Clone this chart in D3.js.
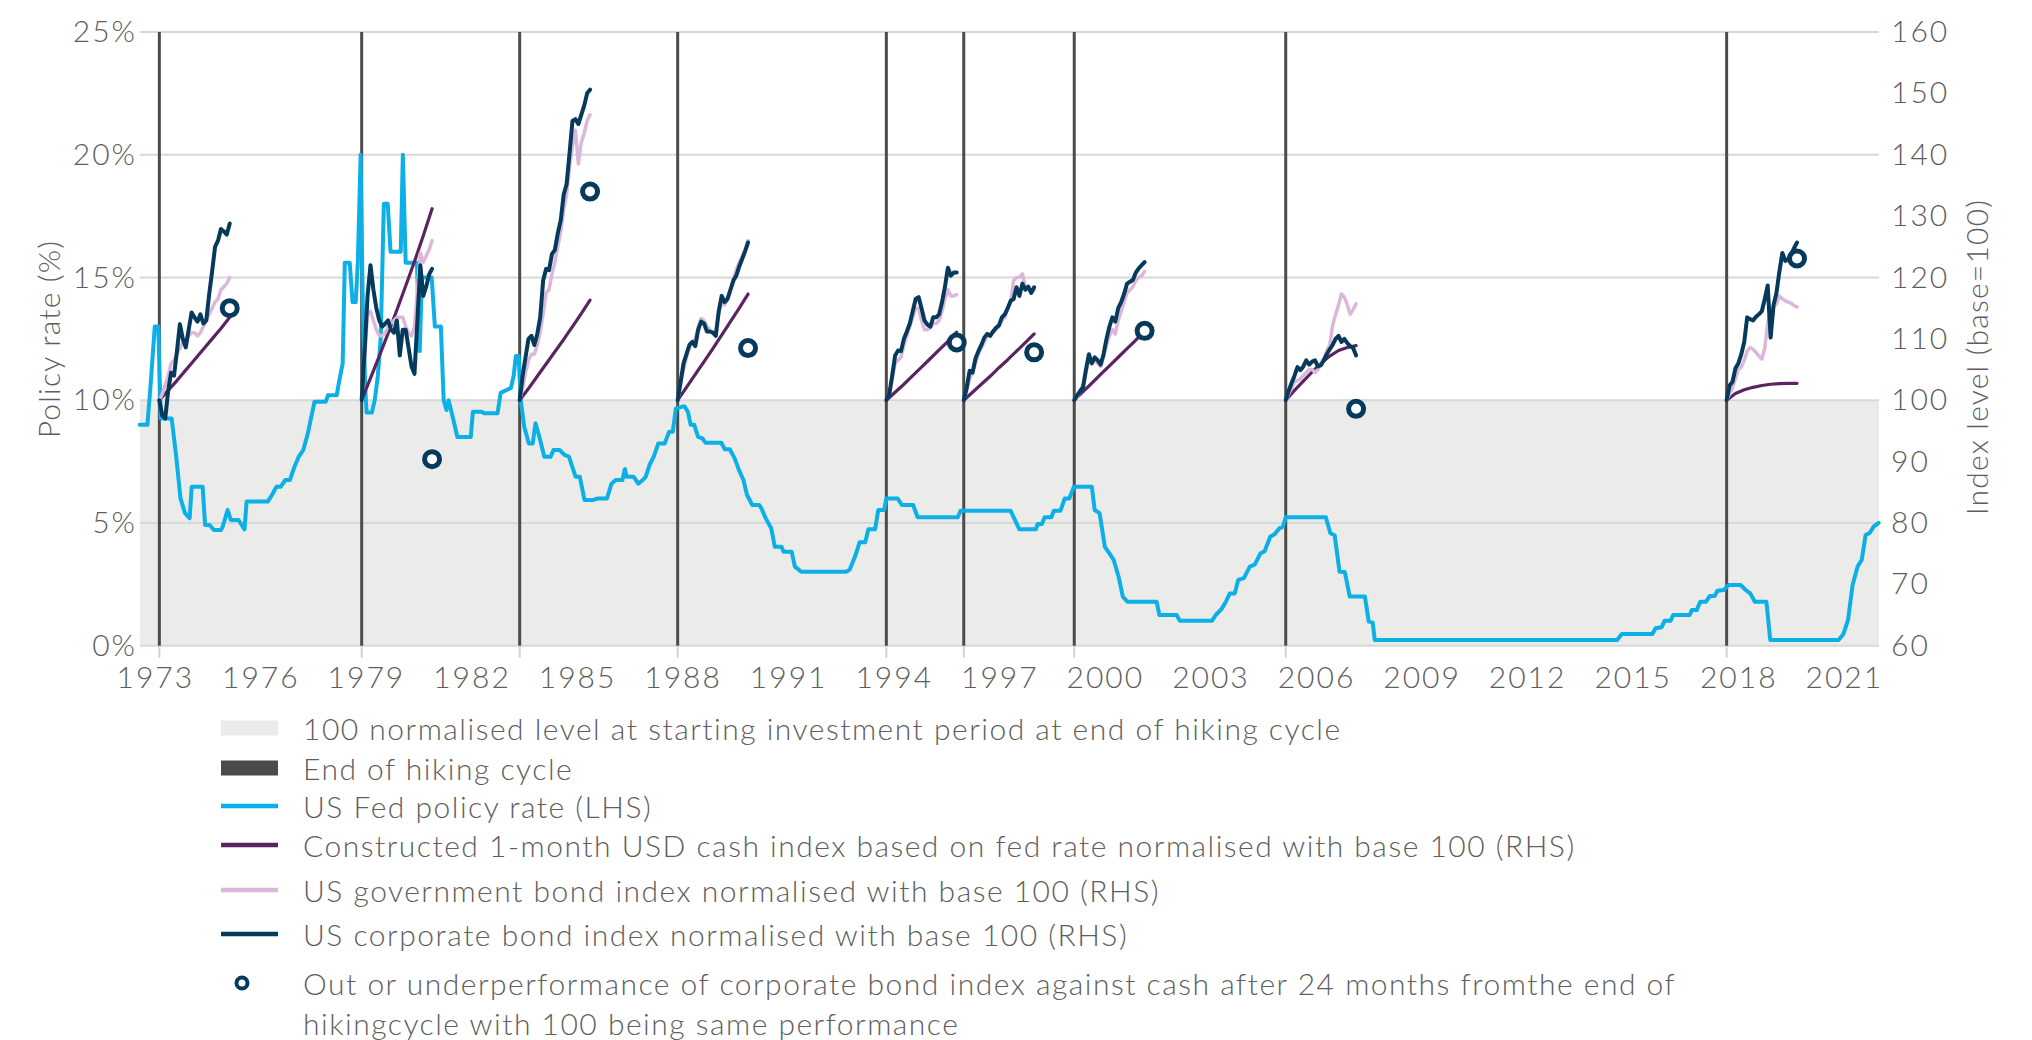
<!DOCTYPE html>
<html>
<head>
<meta charset="utf-8">
<script src="https://cdn.jsdelivr.net/npm/d3@7"></script>
<style>
  html, body { margin: 0; padding: 0; background: #ffffff; }
  svg { display: block; }
  text { font-family: Lato, "Open Sans", "DejaVu Sans", sans-serif; font-weight: 300; fill: #5e5e5e; }
  .tick text { font-size: 30px; letter-spacing: 2px; }
  .axis-title { font-size: 30px; letter-spacing: 1.2px; }
  .legend text { font-size: 30px; letter-spacing: 1.5px; }
</style>
</head>
<body>
<svg id="chart" width="2032" height="1040"></svg>
<script>
// ---- Fed policy rate (LHS), % ----
const fedYear = [
  1972.57, 1972.79, 1972.87, 1972.94, 1973.00, 1973.10, 1973.17, 1973.48, 1973.61, 1973.73,
  1973.86, 1973.99, 1974.05, 1974.36, 1974.43, 1974.56, 1974.68, 1974.88, 1974.93, 1975.07,
  1975.16, 1975.38, 1975.55, 1975.61, 1976.21, 1976.33, 1976.46, 1976.58, 1976.71, 1976.84,
  1976.97, 1977.09, 1977.22, 1977.35, 1977.40, 1977.54, 1977.86, 1977.92, 1978.17, 1978.23,
  1978.34, 1978.40, 1978.54, 1978.62, 1978.71, 1978.77, 1978.85, 1978.91, 1978.98, 1979.02,
  1979.17, 1979.25, 1979.34, 1979.42, 1979.51, 1979.62, 1979.70, 1979.99, 1980.05, 1980.13,
  1980.45, 1980.53, 1980.59, 1980.87, 1980.96, 1981.13, 1981.21, 1981.29, 1981.35, 1981.47,
  1981.60, 1981.98, 1982.04, 1982.29, 1982.35, 1982.74, 1982.83, 1983.12, 1983.20, 1983.26,
  1983.34, 1983.40, 1983.50, 1983.63, 1983.74, 1983.82, 1983.94, 1984.07, 1984.25, 1984.33,
  1984.51, 1984.64, 1984.77, 1984.96, 1985.08, 1985.21, 1985.47, 1985.59, 1985.85, 1985.98,
  1986.10, 1986.29, 1986.36, 1986.41, 1986.61, 1986.74, 1986.87, 1986.95, 1987.06, 1987.18,
  1987.31, 1987.49, 1987.62, 1987.72, 1987.81, 1988.00, 1988.06, 1988.15, 1988.23, 1988.33,
  1988.44, 1988.56, 1988.65, 1989.10, 1989.20, 1989.34, 1989.48, 1989.60, 1989.73, 1989.83,
  1989.98, 1990.18, 1990.24, 1990.36, 1990.52, 1990.62, 1990.81, 1990.87, 1991.10, 1991.19,
  1991.38, 1992.65, 1992.75, 1992.90, 1993.03, 1993.19, 1993.28, 1993.47, 1993.56, 1993.73,
  1993.79, 1994.11, 1994.23, 1994.55, 1994.68, 1995.82, 1995.90, 1997.32, 1997.57, 1998.04,
  1998.09, 1998.21, 1998.29, 1998.48, 1998.55, 1998.74, 1998.86, 1998.99, 1999.12, 1999.63,
  1999.71, 1999.85, 2000.00, 2000.13, 2000.25, 2000.39, 2000.51, 2000.64, 2001.47, 2001.55,
  2002.04, 2002.13, 2003.05, 2003.15, 2003.32, 2003.44, 2003.55, 2003.69, 2003.79, 2003.95,
  2004.12, 2004.26, 2004.42, 2004.54, 2004.70, 2004.83, 2004.96, 2005.06, 2005.14, 2006.28,
  2006.41, 2006.53, 2006.67, 2006.82, 2006.96, 2007.39, 2007.50, 2007.61, 2007.67, 2014.56,
  2014.69, 2015.56, 2015.65, 2015.82, 2015.91, 2016.08, 2016.15, 2016.62, 2016.68, 2016.82,
  2016.92, 2017.08, 2017.19, 2017.33, 2017.41, 2017.59, 2017.72, 2018.07, 2018.21, 2018.34,
  2018.47, 2018.80, 2018.91, 2020.85, 2020.99, 2021.12, 2021.25, 2021.39, 2021.51, 2021.62,
  2021.74, 2021.85, 2021.99
];
const fedRate = [
  9.0, 9.0, 10.4, 11.8, 13.0, 13.0, 9.26, 9.26, 7.7, 6.0,
  5.4, 5.19, 6.48, 6.48, 4.92, 4.92, 4.71, 4.71, 4.85, 5.53,
  5.12, 5.12, 4.74, 5.87, 5.87, 6.14, 6.48, 6.48, 6.75, 6.75,
  7.29, 7.7, 7.97, 8.65, 8.99, 9.94, 9.94, 10.2, 10.2, 10.7,
  11.5, 15.6, 15.6, 14.0, 14.0, 15.6, 20.0, 14.0, 10.5, 9.5,
  9.5, 10.0, 11.0, 12.5, 18.0, 18.0, 16.05, 16.05, 20.0, 15.6,
  15.6, 12.0, 15.0, 15.0, 13.0, 13.0, 10.0, 9.6, 10.0, 9.3,
  8.5, 8.5, 9.53, 9.53, 9.47, 9.47, 10.3, 10.5, 11.0, 11.8,
  11.8, 10.0, 8.92, 8.24, 8.24, 9.06, 8.45, 7.7, 7.7, 7.97,
  7.97, 7.77, 7.7, 6.88, 6.88, 5.94, 5.94, 6.0, 6.0, 6.6,
  6.75, 6.75, 7.2, 6.88, 6.88, 6.6, 6.75, 6.88, 7.36, 7.7,
  8.24, 8.24, 8.72, 8.72, 9.67, 9.74, 9.74, 9.53, 9.0, 9.0,
  8.51, 8.45, 8.27, 8.27, 8.0, 8.0, 7.63, 7.16, 6.75, 6.14,
  5.73, 5.73, 5.6, 5.19, 4.78, 4.03, 4.03, 3.83, 3.83, 3.22,
  3.01, 3.01, 3.1, 3.63, 4.21, 4.21, 4.74, 4.74, 5.53, 5.53,
  6.0, 6.0, 5.73, 5.73, 5.23, 5.23, 5.5, 5.5, 4.74, 4.74,
  4.96, 4.96, 5.23, 5.23, 5.5, 5.5, 6.0, 6.0, 6.48, 6.48,
  5.53, 5.4, 4.03, 3.76, 3.5, 2.81, 2.0, 1.79, 1.79, 1.25,
  1.25, 1.02, 1.02, 1.25, 1.5, 1.79, 2.13, 2.13, 2.68, 2.75,
  3.22, 3.3, 3.76, 3.85, 4.44, 4.55, 4.78, 4.85, 5.23, 5.23,
  4.58, 4.5, 3.01, 3.0, 2.0, 2.0, 0.98, 0.95, 0.23, 0.23,
  0.48, 0.48, 0.71, 0.75, 1.02, 1.02, 1.25, 1.25, 1.45, 1.45,
  1.79, 1.79, 2.02, 2.02, 2.24, 2.27, 2.47, 2.47, 2.27, 2.13,
  1.79, 1.79, 0.23, 0.23, 0.48, 1.05, 2.47, 3.22, 3.5, 4.51,
  4.6, 4.85, 5.0
];

// ---- End of each hiking cycle (decimal year) ----
const cycleEnd = [1973.13, 1978.88, 1983.37, 1987.86, 1993.79, 1995.99, 1999.13, 2005.14, 2017.67];

// ---- Indices over the 24 months after each cycle end (RHS, base 100) ----
// corporate and government bond indices: monthly, months 0..24
const corpIndex = [
  [100, 97.5, 97, 101.5, 104.5, 104, 108, 112.4, 110, 108.6, 111.5, 114.3, 113.5, 112.8, 114, 112.5, 113, 117.3, 121, 125, 126, 127.9, 127.5, 127, 128.8],
  [100, 108, 117, 122, 118, 115, 113, 112, 112.5, 113, 111.5, 111, 113, 107.3, 111.5, 111.5, 108.5, 105.5, 104.3, 113, 122, 117, 118.5, 120.5, 121.4],
  [100, 104, 107, 110, 110.5, 109, 110.8, 113.5, 119.5, 121.4, 121.2, 123.8, 124.5, 127.2, 129.3, 133.5, 135.2, 140.2, 145.5, 145.8, 145, 146.5, 148, 150, 150.6],
  [100, 103, 106, 107.5, 109, 109.5, 108.8, 111.5, 112.8, 112.5, 111.2, 111.2, 111, 110.5, 114.5, 117, 116, 116.5, 118, 119.5, 120.3, 121.8, 123, 124.3, 125.7],
  [100, 101, 104, 107.3, 108.1, 108, 110, 111.2, 112.5, 114.5, 116.5, 116.8, 115, 113, 112.3, 112, 113.5, 113.5, 114, 116, 118.5, 121.6, 120.3, 120.8, 120.8],
  [100, 102, 104.8, 104.5, 106.8, 108, 109, 110.2, 110.8, 110.5, 111.2, 111.8, 112.2, 113.5, 114, 115, 116.2, 116.5, 118.4, 117, 119, 118, 118.5, 117.5, 118.4],
  [100, 100.8, 101.5, 102.1, 105, 107.5, 106, 107, 106.5, 105.8, 107.5, 110, 112, 113.5, 112.8, 115, 116, 117.3, 119, 119.3, 119.6, 120.8, 121.5, 122, 122.5],
  [100, 101.5, 102.8, 104, 105.4, 104.9, 105.5, 106.5, 105.8, 106.3, 106.5, 105.5, 105.7, 106.5, 107.5, 108.3, 109, 110, 110.5, 109.5, 110, 109.3, 108.8, 108.5, 107.3],
  [100, 102.4, 103, 105.2, 106, 107.5, 109.5, 113.5, 113.2, 113, 113.6, 114, 114.5, 116.5, 118.7, 110.2, 115.5, 117.5, 121, 124, 122.7, 123, 123.8, 124.8, 125.7]
];
const govIndex = [
  [100, 101, 102.5, 104, 106, 106.5, 107.5, 108.5, 109.5, 110, 110.5, 111, 111, 110.5, 111, 112, 113, 114, 115, 116, 116.5, 118, 118.5, 119, 120],
  [100, 107, 114, 114.5, 113, 111.5, 110.5, 110.5, 111, 112, 112.5, 113, 113.5, 113.5, 113.5, 112, 111, 110.5, 112, 118, 124, 122.5, 123.5, 124.5, 126],
  [100, 102, 104.5, 106.5, 107.5, 107.5, 109, 111, 114, 117.5, 118, 120.5, 122.5, 125, 127.5, 131, 133.5, 138, 141.5, 144, 138.5, 142, 143.5, 145.5, 146.5],
  [100, 102.5, 105, 107, 108.5, 109.5, 110, 112, 113.3, 113, 112, 111.5, 111, 111, 114, 116, 115.5, 116.5, 118, 119.8, 121.3, 122.5, 123.5, 124.5, 126],
  [100, 101, 103.5, 106, 106.5, 107, 109, 110.5, 112, 113.5, 115, 115, 113, 111.5, 111.5, 111.8, 112.5, 112.5, 113, 114.5, 116.5, 118, 117, 117, 117.2],
  [100, 101.5, 103.5, 104.5, 106, 107.5, 108.5, 109.5, 110.5, 110.5, 111, 111.5, 112, 113, 113.5, 115, 116, 119.5, 120, 120, 120.6, 118.5, 118.5, 117.5, 118],
  [100, 100.5, 101.5, 102.5, 104.5, 106.5, 106, 106.5, 106, 105.5, 107, 109, 110.5, 111.5, 110.8, 113, 114.5, 116, 117.5, 118, 118.5, 119.5, 120, 120.3, 121],
  [100, 101, 102, 103, 103.2, 103.5, 104, 104.5, 105, 105, 104.5, 105, 106, 106.8, 108, 109, 112.2, 114, 115.5, 117.3, 116.8, 115.5, 114, 114.8, 115.7],
  [100, 101, 102, 103.5, 105, 105.4, 106.5, 108, 108.6, 108.3, 107.8, 107.2, 106.7, 108.5, 112.5, 114.8, 115.2, 115.7, 117, 116.5, 116.2, 116, 115.8, 115.4, 115.2]
];
// constructed cash index: quarterly points
const cashMonths = [0, 3, 6, 9, 12, 15, 18, 21, 24];
const cashIndex = [
  [100, 101.6, 103.2, 104.9, 106.6, 108.3, 110.0, 111.7, 113.5],
  [100, 103.6, 107.2, 110.9, 114.7, 118.6, 122.6, 126.8, 131.2],
  [100, 101.9, 103.9, 105.9, 107.9, 109.9, 112.0, 114.1, 116.3],
  [100, 102.1, 104.2, 106.3, 108.4, 110.6, 112.8, 115.0, 117.3],
  [100, 101.3, 102.6, 104.0, 105.4, 106.8, 108.2, 109.6, 111.1],
  [100, 101.3, 102.6, 103.9, 105.3, 106.6, 108.0, 109.4, 110.8],
  [100, 101.4, 102.8, 104.2, 105.6, 107.0, 108.4, 109.8, 111.3],
  [100, 101.6, 103.1, 104.6, 106.0, 107.2, 108.1, 108.6, 108.9],
  [100, 101.1, 101.7, 102.1, 102.4, 102.6, 102.7, 102.75, 102.75]
];
// corporate vs cash relative performance after 24 months (100 = same)
const relPerf = [115, 90.4, 134, 108.5, 109.4, 107.8, 111.3, 98.6, 123.1];

// ---- Axis ticks ----
const rateTicks = [0, 5, 10, 15, 20, 25];
const indexTicks = [60, 70, 80, 90, 100, 110, 120, 130, 140, 150, 160];
const yearTicks = [1973, 1976, 1979, 1982, 1985, 1988, 1991, 1994, 1997, 2000, 2003, 2006, 2009, 2012, 2015, 2018, 2021];
const baseLevel = 100;

// ---- Legend ----
const legendItems = [
  { kind: "band", label: ["100 normalised level at starting investment period at end of hiking cycle"] },
  { kind: "bar", label: ["End of hiking cycle"] },
  { kind: "fed", label: ["US Fed policy rate (LHS)"] },
  { kind: "cash", label: ["Constructed 1-month USD cash index based on fed rate normalised with base 100 (RHS)"] },
  { kind: "gov", label: ["US government bond index normalised with base 100 (RHS)"] },
  { kind: "corp", label: ["US corporate bond index normalised with base 100 (RHS)"] },
  { kind: "marker", label: ["Out or underperformance of corporate bond index against cash after 24 months fromthe end of", "hikingcycle with 100 being same performance"] }
];

// ---- Styling ----
const C = {
  fed: "#0cb0e6", cash: "#5b2461", gov: "#dbb8da", corp: "#063a5c",
  band: "#ebebe9", bar: "#4b4b4b", grid: "#d8d8d8", tick: "#d2d2d2"
};

const svg = d3.select("#chart");
const plot = { left: 140, right: 1879, top: 32, bottom: 645.7 };

const x = d3.scaleLinear().domain([1972.58, 2022.0]).range([plot.left, plot.right]);
const yRate = d3.scaleLinear().domain([0, 25]).range([plot.bottom, plot.top]);
const yIdx = d3.scaleLinear().domain([60, 160]).range([plot.bottom, plot.top]);

// shaded zone below the base-100 level
svg.append("rect")
  .attr("x", x.range()[0]).attr("width", x.range()[1] - x.range()[0])
  .attr("y", yIdx(baseLevel)).attr("height", yIdx(60) - yIdx(baseLevel))
  .attr("fill", C.band);

// horizontal gridlines
svg.append("g").selectAll("line").data(rateTicks).join("line")
  .attr("x1", plot.left).attr("x2", plot.right)
  .attr("y1", d => yRate(d)).attr("y2", d => yRate(d))
  .attr("stroke", C.grid).attr("stroke-width", 2);

// small ticks under the axis at each cycle end
svg.append("g").selectAll("line").data(cycleEnd).join("line")
  .attr("x1", d => x(d)).attr("x2", d => x(d))
  .attr("y1", plot.bottom + 1).attr("y2", plot.bottom + 12)
  .attr("stroke", C.tick).attr("stroke-width", 2);

// end-of-hiking-cycle markers
svg.append("g").selectAll("line").data(cycleEnd).join("line")
  .attr("x1", d => x(d)).attr("x2", d => x(d))
  .attr("y1", yRate(25)).attr("y2", yRate(0))
  .attr("stroke", C.bar).attr("stroke-width", 3);

// Fed policy rate
const fedLine = d3.line().x((d, i) => x(fedYear[i])).y(d => yRate(d));
svg.append("path").datum(fedRate)
  .attr("d", fedLine).attr("fill", "none")
  .attr("stroke", C.fed).attr("stroke-width", 4)
  .attr("stroke-linejoin", "round").attr("stroke-linecap", "round");

// index paths for each cycle
const monthly = d3.range(25);
function drawIndex(rows, months, colour, width) {
  const g = svg.append("g");
  rows.forEach((vals, c) => {
    const line = d3.line().x((d, i) => x(cycleEnd[c] + months[i] / 12)).y(d => yIdx(d));
    g.append("path").datum(vals).attr("d", line)
      .attr("fill", "none").attr("stroke", colour).attr("stroke-width", width)
      .attr("stroke-linejoin", "round").attr("stroke-linecap", "round");
  });
}
drawIndex(cashIndex, cashMonths, C.cash, 3.2);
drawIndex(govIndex, monthly, C.gov, 3.5);
drawIndex(corpIndex, monthly, C.corp, 4);

// relative performance markers
svg.append("g").selectAll("circle").data(relPerf).join("circle")
  .attr("cx", (d, i) => x(cycleEnd[i] + 2)).attr("cy", d => yIdx(d))
  .attr("r", 7.5).attr("fill", "#ffffff")
  .attr("stroke", C.corp).attr("stroke-width", 5);

// axes
function tidy(g) {
  g.attr("font-size", null).attr("font-family", null);
  g.select(".domain").remove();
}
svg.append("g").attr("transform", `translate(${plot.left},0)`)
  .call(d3.axisLeft(yRate).tickValues(rateTicks).tickFormat(d => d + "%").tickSize(0).tickPadding(3))
  .call(tidy);
svg.append("g").attr("transform", `translate(${plot.right},0)`)
  .call(d3.axisRight(yIdx).tickValues(indexTicks).tickSize(0).tickPadding(12))
  .call(tidy);
svg.append("g").attr("transform", `translate(0,${plot.bottom})`)
  .call(d3.axisBottom(x).tickValues(yearTicks).tickFormat(d3.format("d")).tickSize(0).tickPadding(21))
  .call(tidy);

// axis titles
svg.append("text").attr("class", "axis-title")
  .attr("transform", "translate(48,339) rotate(-90)")
  .attr("text-anchor", "middle").attr("dominant-baseline", "central")
  .text("Policy rate (%)");
svg.append("text").attr("class", "axis-title")
  .attr("transform", "translate(1976,357) rotate(-90)")
  .attr("text-anchor", "middle").attr("dominant-baseline", "central")
  .text("Index level (base=100)");

// legend
const legendRows = [728, 768, 806, 845, 890, 934, 983];
const lg = svg.append("g").attr("class", "legend");
legendItems.forEach((item, i) => {
  const cy = legendRows[i];
  const sx0 = 221, sx1 = 278;
  if (item.kind === "band" || item.kind === "bar") {
    lg.append("rect").attr("x", sx0).attr("y", cy - 7.5).attr("width", sx1 - sx0).attr("height", 15)
      .attr("fill", item.kind === "band" ? C.band : C.bar);
  } else if (item.kind === "marker") {
    lg.append("ellipse").attr("cx", 242).attr("cy", cy).attr("rx", 5.5).attr("ry", 5.5)
      .attr("fill", "#ffffff").attr("stroke", C.corp).attr("stroke-width", 4);
  } else {
    lg.append("line").attr("x1", sx0).attr("x2", sx1).attr("y1", cy).attr("y2", cy)
      .attr("stroke", C[item.kind]).attr("stroke-width", 4.5);
  }
  item.label.forEach((t, k) => {
    lg.append("text").attr("x", 303).attr("y", cy + k * 40)
      .attr("dominant-baseline", "central").text(t);
  });
});
</script>
</body>
</html>
